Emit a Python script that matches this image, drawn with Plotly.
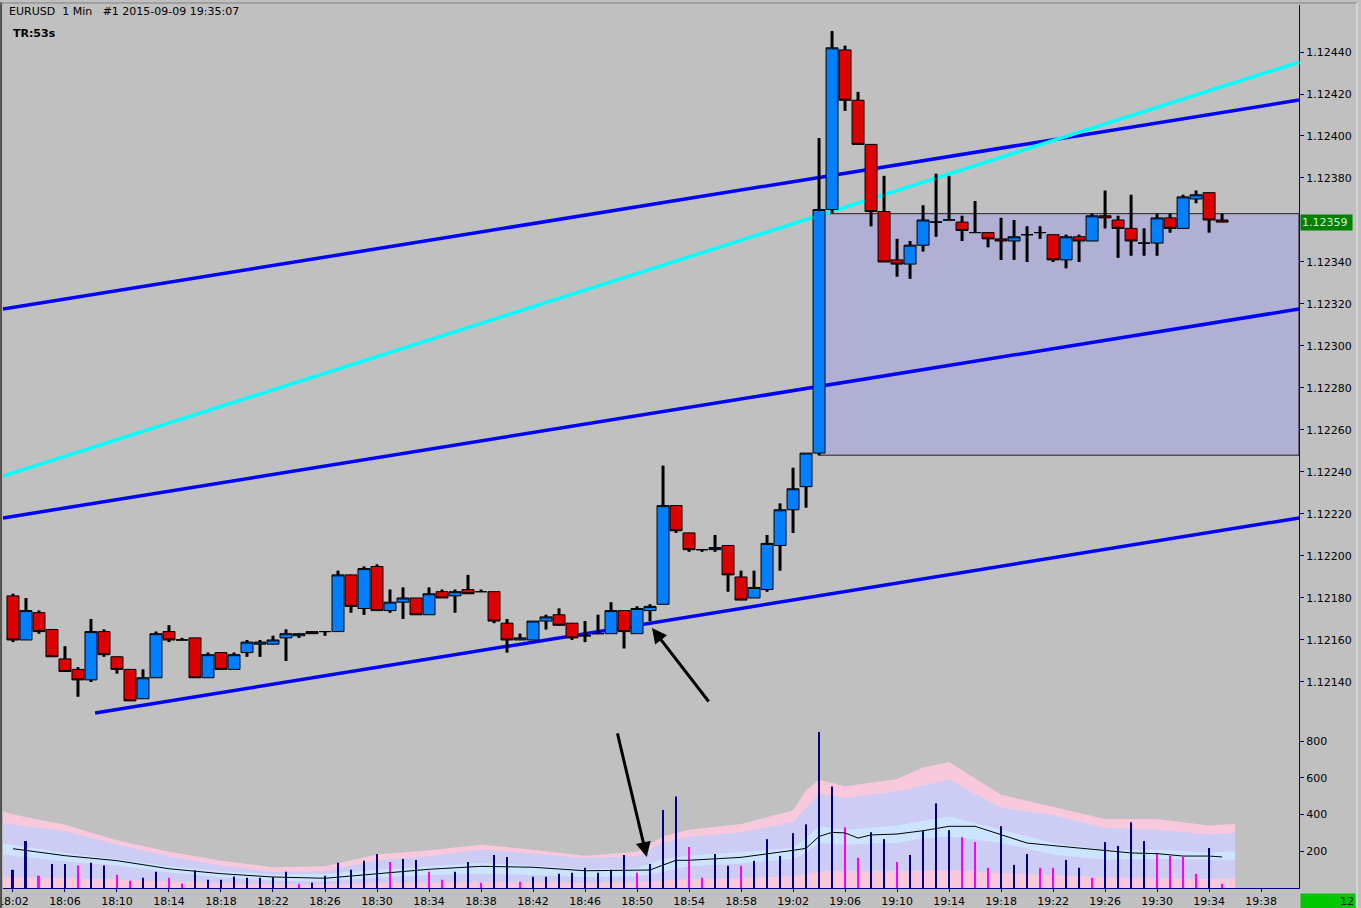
import pandas as pd
import plotly.graph_objects as go

# EURUSD 1 min bars, 18:02 .. 19:35
open_ = [1.12181, 1.12160, 1.12173, 1.12165, 1.12151, 1.12146, 1.12141, 1.12164, 1.12152, 1.12146,
         1.12132, 1.12142, 1.12164, 1.12160, 1.12161, 1.12142, 1.12154, 1.12146, 1.12154, 1.12158,
         1.12158, 1.12161, 1.12162, 1.12164, 1.12164, 1.12164, 1.12191, 1.12175, 1.12195, 1.12174,
         1.12178, 1.12180, 1.12172, 1.12183, 1.12181, 1.12184, 1.12183, 1.12183, 1.12168, 1.12160,
         1.12160, 1.12169, 1.12172, 1.12168, 1.12162, 1.12163, 1.12163, 1.12174, 1.12163, 1.12174,
         1.12177, 1.12224, 1.12211, 1.12203, 1.12203, 1.12205, 1.12190, 1.12180, 1.12184, 1.12205,
         1.12222, 1.12233, 1.12249, 1.12365, 1.12441, 1.12417, 1.12396, 1.12364, 1.12341, 1.12339,
         1.12348, 1.12359, 1.12360, 1.12359, 1.12354, 1.12354, 1.12351, 1.12350, 1.12353, 1.12354,
         1.12353, 1.12341, 1.12352, 1.12350, 1.12362, 1.12360, 1.12356, 1.12349, 1.12349, 1.12361,
         1.12356, 1.12370, 1.12373, 1.12360]
high = [1.12182, 1.12180, 1.12174, 1.12165, 1.12157, 1.12147, 1.12170, 1.12165, 1.12152, 1.12146,
        1.12146, 1.12164, 1.12167, 1.12161, 1.12161, 1.12154, 1.12154, 1.12154, 1.12160, 1.12160,
        1.12162, 1.12165, 1.12163, 1.12164, 1.12164, 1.12193, 1.12191, 1.12195, 1.12196, 1.12184,
        1.12185, 1.12180, 1.12185, 1.12184, 1.12184, 1.12191, 1.12184, 1.12183, 1.12170, 1.12163,
        1.12169, 1.12172, 1.12175, 1.12168, 1.12169, 1.12172, 1.12178, 1.12174, 1.12176, 1.12177,
        1.12243, 1.12224, 1.12211, 1.12203, 1.12210, 1.12205, 1.12193, 1.12193, 1.12210, 1.12225,
        1.12242, 1.12249, 1.12399, 1.12450, 1.12443, 1.12421, 1.12396, 1.12381, 1.12351, 1.12350,
        1.12367, 1.12382, 1.12381, 1.12362, 1.12369, 1.12354, 1.12361, 1.12360, 1.12357, 1.12357,
        1.12353, 1.12353, 1.12353, 1.12363, 1.12374, 1.12362, 1.12372, 1.12356, 1.12363, 1.12363,
        1.12372, 1.12374, 1.12373, 1.12363]
low = [1.12159, 1.12160, 1.12163, 1.12152, 1.12145, 1.12133, 1.12140, 1.12152, 1.12144, 1.12131,
       1.12132, 1.12142, 1.12159, 1.12160, 1.12142, 1.12142, 1.12146, 1.12146, 1.12152, 1.12152,
       1.12158, 1.12150, 1.12161, 1.12163, 1.12162, 1.12164, 1.12173, 1.12172, 1.12174, 1.12173,
       1.12170, 1.12172, 1.12172, 1.12180, 1.12173, 1.12182, 1.12183, 1.12168, 1.12154, 1.12160,
       1.12160, 1.12165, 1.12167, 1.12160, 1.12159, 1.12163, 1.12163, 1.12156, 1.12163, 1.12169,
       1.12177, 1.12211, 1.12202, 1.12202, 1.12202, 1.12183, 1.12179, 1.12180, 1.12183, 1.12193,
       1.12211, 1.12223, 1.12248, 1.12363, 1.12412, 1.12396, 1.12357, 1.12340, 1.12333, 1.12332,
       1.12345, 1.12352, 1.12360, 1.12350, 1.12354, 1.12347, 1.12341, 1.12341, 1.12340, 1.12351,
       1.12340, 1.12337, 1.12340, 1.12350, 1.12356, 1.12342, 1.12343, 1.12343, 1.12343, 1.12354,
       1.12356, 1.12368, 1.12354, 1.12359]
close = [1.12160, 1.12174, 1.12164, 1.12152, 1.12145, 1.12141, 1.12164, 1.12153, 1.12146, 1.12131,
         1.12142, 1.12163, 1.12160, 1.12160, 1.12142, 1.12153, 1.12146, 1.12153, 1.12159, 1.12159,
         1.12160, 1.12163, 1.12163, 1.12163, 1.12164, 1.12191, 1.12176, 1.12194, 1.12174, 1.12178,
         1.12180, 1.12172, 1.12182, 1.12180, 1.12183, 1.12182, 1.12183, 1.12169, 1.12160, 1.12161,
         1.12169, 1.12171, 1.12167, 1.12161, 1.12162, 1.12163, 1.12174, 1.12164, 1.12175, 1.12176,
         1.12224, 1.12212, 1.12203, 1.12203, 1.12204, 1.12191, 1.12179, 1.12185, 1.12206, 1.12222,
         1.12232, 1.12249, 1.12365, 1.12442, 1.12417, 1.12396, 1.12364, 1.12340, 1.12339, 1.12348,
         1.12360, 1.12359, 1.12360, 1.12355, 1.12354, 1.12351, 1.12350, 1.12352, 1.12353, 1.12354,
         1.12341, 1.12352, 1.12350, 1.12362, 1.12361, 1.12356, 1.12350, 1.12349, 1.12361, 1.12356,
         1.12371, 1.12372, 1.12360, 1.12359]

# tick volume and its colour flag (1 = magenta bar)
volume = [99, 256, 67, 131, 131, 122, 137, 122, 72, 40,
          56, 88, 56, 25, 97, 45, 45, 63, 56, 56,
          59, 88, 23, 29, 67, 137, 99, 148, 185, 142,
          158, 153, 88, 45, 88, 142, 29, 180, 169, 34,
          61, 61, 77, 83, 110, 83, 99, 180, 83, 131,
          425, 499, 223, 56, 185, 121, 121, 148, 266, 175,
          299, 347, 850, 553, 331, 164, 304, 266, 142, 180,
          310, 461, 315, 277, 250, 110, 337, 126, 185, 110,
          110, 153, 110, 56, 250, 229, 358, 256, 191, 175,
          169, 77, 218, 23]
vol_low = [0, 0, 1, 0, 0, 1, 0, 0, 1, 1,
           0, 0, 1, 1, 0, 0, 0, 0, 0, 0,
           0, 0, 1, 0, 0, 0, 0, 0, 0, 1,
           0, 0, 1, 1, 0, 0, 1, 0, 0, 1,
           0, 0, 0, 0, 0, 0, 0, 0, 1, 0,
           0, 0, 1, 1, 0, 0, 1, 0, 0, 0,
           0, 0, 0, 0, 1, 1, 0, 0, 1, 0,
           0, 0, 0, 1, 1, 1, 0, 0, 0, 1,
           1, 0, 0, 1, 0, 0, 0, 0, 1, 1,
           1, 1, 0, 1]

# volume bands
band_times = ["18:01:14", "18:02", "18:06", "18:10", "18:14", "18:18", "18:22", "18:26", "18:30",
              "18:34", "18:38", "18:42", "18:46", "18:50", "18:52", "18:54", "18:58", "19:02",
              "19:03", "19:04", "19:06", "19:08", "19:10", "19:12", "19:14", "19:18", "19:22",
              "19:26", "19:30", "19:34", "19:36"]
band_top = [418, 400, 345, 260, 198, 149, 113, 118, 182, 205, 236, 209, 176, 198, 281, 318, 349,
            423, 532, 590, 554, 576, 594, 657, 686, 508, 441, 376, 376, 340, 350]
band_up_outer = [354, 345, 309, 236, 173, 123, 87, 91, 151, 173, 209, 187, 163, 173, 249, 278, 303,
                 358, 436, 514, 490, 508, 527, 558, 590, 436, 396, 327, 318, 291, 300]
band_up_inner = [242, 236, 191, 158, 118, 91, 74, 76, 100, 118, 136, 122, 104, 109, 158, 176, 196,
                 218, 272, 336, 318, 327, 340, 367, 390, 318, 245, 209, 209, 194, 200]
band_lo_inner = [182, 176, 145, 122, 85, 58, 40, 36, 56, 71, 78, 71, 60, 64, 87, 118, 134,
                 158, 194, 245, 236, 242, 245, 269, 281, 245, 182, 154, 158, 154, 154]
band_lo_outer = [64, 60, 54, 47, 35, 27, 20, 20, 27, 27, 33, 33, 27, 31, 42, 49, 54,
                 64, 78, 91, 91, 91, 91, 96, 100, 82, 71, 58, 54, 49, 54]

ma_times = ["18:02", "18:06", "18:10", "18:14", "18:18", "18:22", "18:26", "18:30", "18:34",
            "18:38", "18:42", "18:46", "18:50", "18:51", "18:52", "18:53", "18:54", "18:58",
            "19:02", "19:03", "19:04", "19:05", "19:06", "19:07", "19:08", "19:10", "19:12",
            "19:14", "19:16", "19:18", "19:20", "19:22", "19:26", "19:28", "19:30", "19:32",
            "19:34", "19:35"]
vol_ma = [214, 176, 149, 105, 78, 60, 53, 78, 102, 118, 113, 94, 98, 98, 125, 151, 151, 167,
          205, 216, 281, 303, 300, 272, 289, 294, 312, 336, 336, 291, 245, 231, 202, 191, 187,
          174, 174, 169]

# drawn objects (time, price)
channel_times = ["18:01:14", "19:40:55"]
channel_upper = [1.123176, 1.124171]
channel_middle = [1.122181, 1.123176]
channel_lower_times = ["18:08:19", "19:40:55"]
channel_lower = [1.121252, 1.122181]
cyan_line = [1.122381, 1.124352]
box_start, box_end = "19:04", "19:40:55"
box_low, box_high = 1.12248, 1.12363
bid_price = 1.12359

price_ticks = [1.12140, 1.12160, 1.12180, 1.12200, 1.12220, 1.12240, 1.12260, 1.12280,
               1.12300, 1.12320, 1.12340, 1.12380, 1.12400, 1.12420, 1.12440]
volume_ticks = [200, 400, 600, 800]

DAY = "2015-09-09 "
times = pd.date_range(DAY + "18:02", periods=len(open_), freq="min")


def stamp(lst):
    return [DAY + t for t in lst]


AXIS = "#000080"
FONT = "DejaVu Sans, Verdana, sans-serif"
PRICE_RANGE = [1.1212048, 1.1246238]
VOL_RANGE = [0, 899]

fig = go.Figure()

# volume panel: bands on y2, bars and average on the overlay y4
fig.add_trace(go.Scatter(x=stamp(band_times), y=band_top, mode="lines", line=dict(width=0),
                         fill="tozeroy", fillcolor="#F8C8DC", yaxis="y2", hoverinfo="skip"))
fig.add_trace(go.Scatter(x=stamp(band_times), y=band_lo_outer, mode="lines", line=dict(width=0),
                         yaxis="y2", hoverinfo="skip"))
fig.add_trace(go.Scatter(x=stamp(band_times), y=band_up_outer, mode="lines", line=dict(width=0),
                         fill="tonexty", fillcolor="#CCCCF4", yaxis="y2", hoverinfo="skip"))
fig.add_trace(go.Scatter(x=stamp(band_times), y=band_lo_inner, mode="lines", line=dict(width=0),
                         yaxis="y2", hoverinfo="skip"))
fig.add_trace(go.Scatter(x=stamp(band_times), y=band_up_inner, mode="lines", line=dict(width=0),
                         fill="tonexty", fillcolor="#CCE4FF", yaxis="y2", hoverinfo="skip"))
fig.add_trace(go.Bar(x=times, y=volume, width=9000, yaxis="y4", hoverinfo="skip",
                     marker=dict(color=["#FF00FF" if f else "#000080" for f in vol_low],
                                 line=dict(width=0))))
fig.add_trace(go.Scatter(x=stamp(ma_times), y=vol_ma, mode="lines", yaxis="y4",
                         line=dict(color="black", width=1), hoverinfo="skip"))

# thick wicks on y, candle bodies on the overlay y3 so they sit on top
wick_x, wick_y = [], []
for t, lo, hi in zip(times, low, high):
    wick_x += [t, t, None]
    wick_y += [lo, hi, None]
fig.add_trace(go.Scatter(x=wick_x, y=wick_y, mode="lines", line=dict(color="black", width=3),
                         hoverinfo="skip"))
fig.add_trace(go.Candlestick(
    x=times, open=open_, high=high, low=low, close=close, hoverinfo="skip", yaxis="y3",
    increasing=dict(fillcolor="#0080FF", line=dict(color="black", width=1)),
    decreasing=dict(fillcolor="#DD0000", line=dict(color="black", width=1))))

fig.update_layout(
    template="none",
    width=1361, height=908,
    margin=dict(l=3, r=62, t=5, b=20),
    paper_bgcolor="#C0C0C0", plot_bgcolor="#C0C0C0",
    font=dict(family=FONT, size=11, color="black"),
    showlegend=False,
    boxgap=0.04, boxgroupgap=0.04,
    xaxis=dict(type="date", range=[DAY + "18:01:14", DAY + "19:40:55"], anchor="y2",
               tick0=DAY + "18:02", dtick=240000, tickformat="%H:%M",
               ticklabeloverflow="allow",
               showline=True, linecolor=AXIS, linewidth=1, ticks="outside", ticklen=3,
               tickcolor=AXIS, showgrid=False, zeroline=False,
               rangeslider=dict(visible=False)),
    yaxis=dict(domain=[0.1869, 1], range=PRICE_RANGE, side="right", anchor="x",
               tickvals=price_ticks, tickformat=".5f", showline=True, linecolor=AXIS,
               ticks="outside", ticklen=4, tickcolor=AXIS, showgrid=False, zeroline=False),
    yaxis2=dict(domain=[0, 0.1869], range=VOL_RANGE, side="right", anchor="x",
                tickvals=volume_ticks, showline=True, linecolor=AXIS,
                ticks="outside", ticklen=4, tickcolor=AXIS, showgrid=False, zeroline=False),
    yaxis3=dict(overlaying="y", range=PRICE_RANGE, visible=False),
    yaxis4=dict(overlaying="y2", range=VOL_RANGE, visible=False),
)

# shapes below the traces: box first, trend lines over it
fig.add_shape(type="rect", xref="x", yref="y", x0=DAY + box_start, x1=DAY + box_end,
              y0=box_low, y1=box_high, fillcolor="#B0B0D4", line=dict(color="#202020", width=1),
              layer="below")
for tx, ty, col in [(channel_times, channel_upper, "#0000FF"),
                    (channel_times, channel_middle, "#0000FF"),
                    (channel_lower_times, channel_lower, "#0000FF"),
                    (channel_times, cyan_line, "#00FFFF")]:
    fig.add_shape(type="line", xref="x", yref="y", x0=DAY + tx[0], x1=DAY + tx[1],
                  y0=ty[0], y1=ty[1], line=dict(color=col, width=3.5), layer="below")

# window frame
fig.add_shape(type="line", xref="paper", yref="paper", x0=-0.0015, x1=-0.0015, y0=-0.03, y1=1.003,
              line=dict(color="#505050", width=2))
fig.add_shape(type="line", xref="paper", yref="paper", x0=-0.003, x1=1.0448, y0=1.0023, y1=1.0023,
              line=dict(color="#808080", width=1))
fig.add_shape(type="line", xref="paper", yref="paper", x0=1.0448, x1=1.0448, y0=-0.03, y1=1.0023,
              line=dict(color="#E8E8E8", width=1))

fig.add_annotation(xref="paper", yref="paper", x=0, y=1, xanchor="left", yanchor="top",
                   xshift=4, yshift=2, showarrow=False,
                   text="EURUSD\u00a0\u00a01\u00a0Min\u00a0\u00a0\u00a0#1\u00a02015-09-09\u00a019:35:07")
fig.add_annotation(xref="paper", yref="paper", x=0, y=1, xanchor="left", yanchor="top",
                   xshift=8, yshift=-20, showarrow=False, text="<b>TR:53s</b>")

fig.add_annotation(xref="paper", yref="y", x=1, y=bid_price, xanchor="left", xshift=1,
                   showarrow=False, text=f"{bid_price:.5f}", bgcolor="#008000",
                   font=dict(color="#D8F0D8", size=11), width=49, height=13, borderpad=1,
                   align="left")
fig.add_annotation(xref="paper", yref="paper", x=1, y=0, xanchor="left", yanchor="top",
                   xshift=1, yshift=-5, showarrow=False, text="12", bgcolor="#00C800",
                   font=dict(color="black", size=11), width=52, height=13, align="right")

# arrows
fig.add_annotation(xref="x", yref="y", axref="x", ayref="y",
                   x=DAY + "18:51:09", y=1.121657, ax=DAY + "18:55:36", ay=1.12130,
                   showarrow=True, arrowhead=2, arrowsize=1, arrowwidth=3, arrowcolor="black",
                   text="")
fig.add_annotation(xref="x", yref="y2", axref="x", ayref="y2",
                   x=DAY + "18:50:45", y=169, ax=DAY + "18:48:28", ay=850,
                   showarrow=True, arrowhead=2, arrowsize=1, arrowwidth=3, arrowcolor="black",
                   text="")

fig.write_html("out.html", config={"displayModeBar": False},
               post_script="document.body.style.margin='0';")
